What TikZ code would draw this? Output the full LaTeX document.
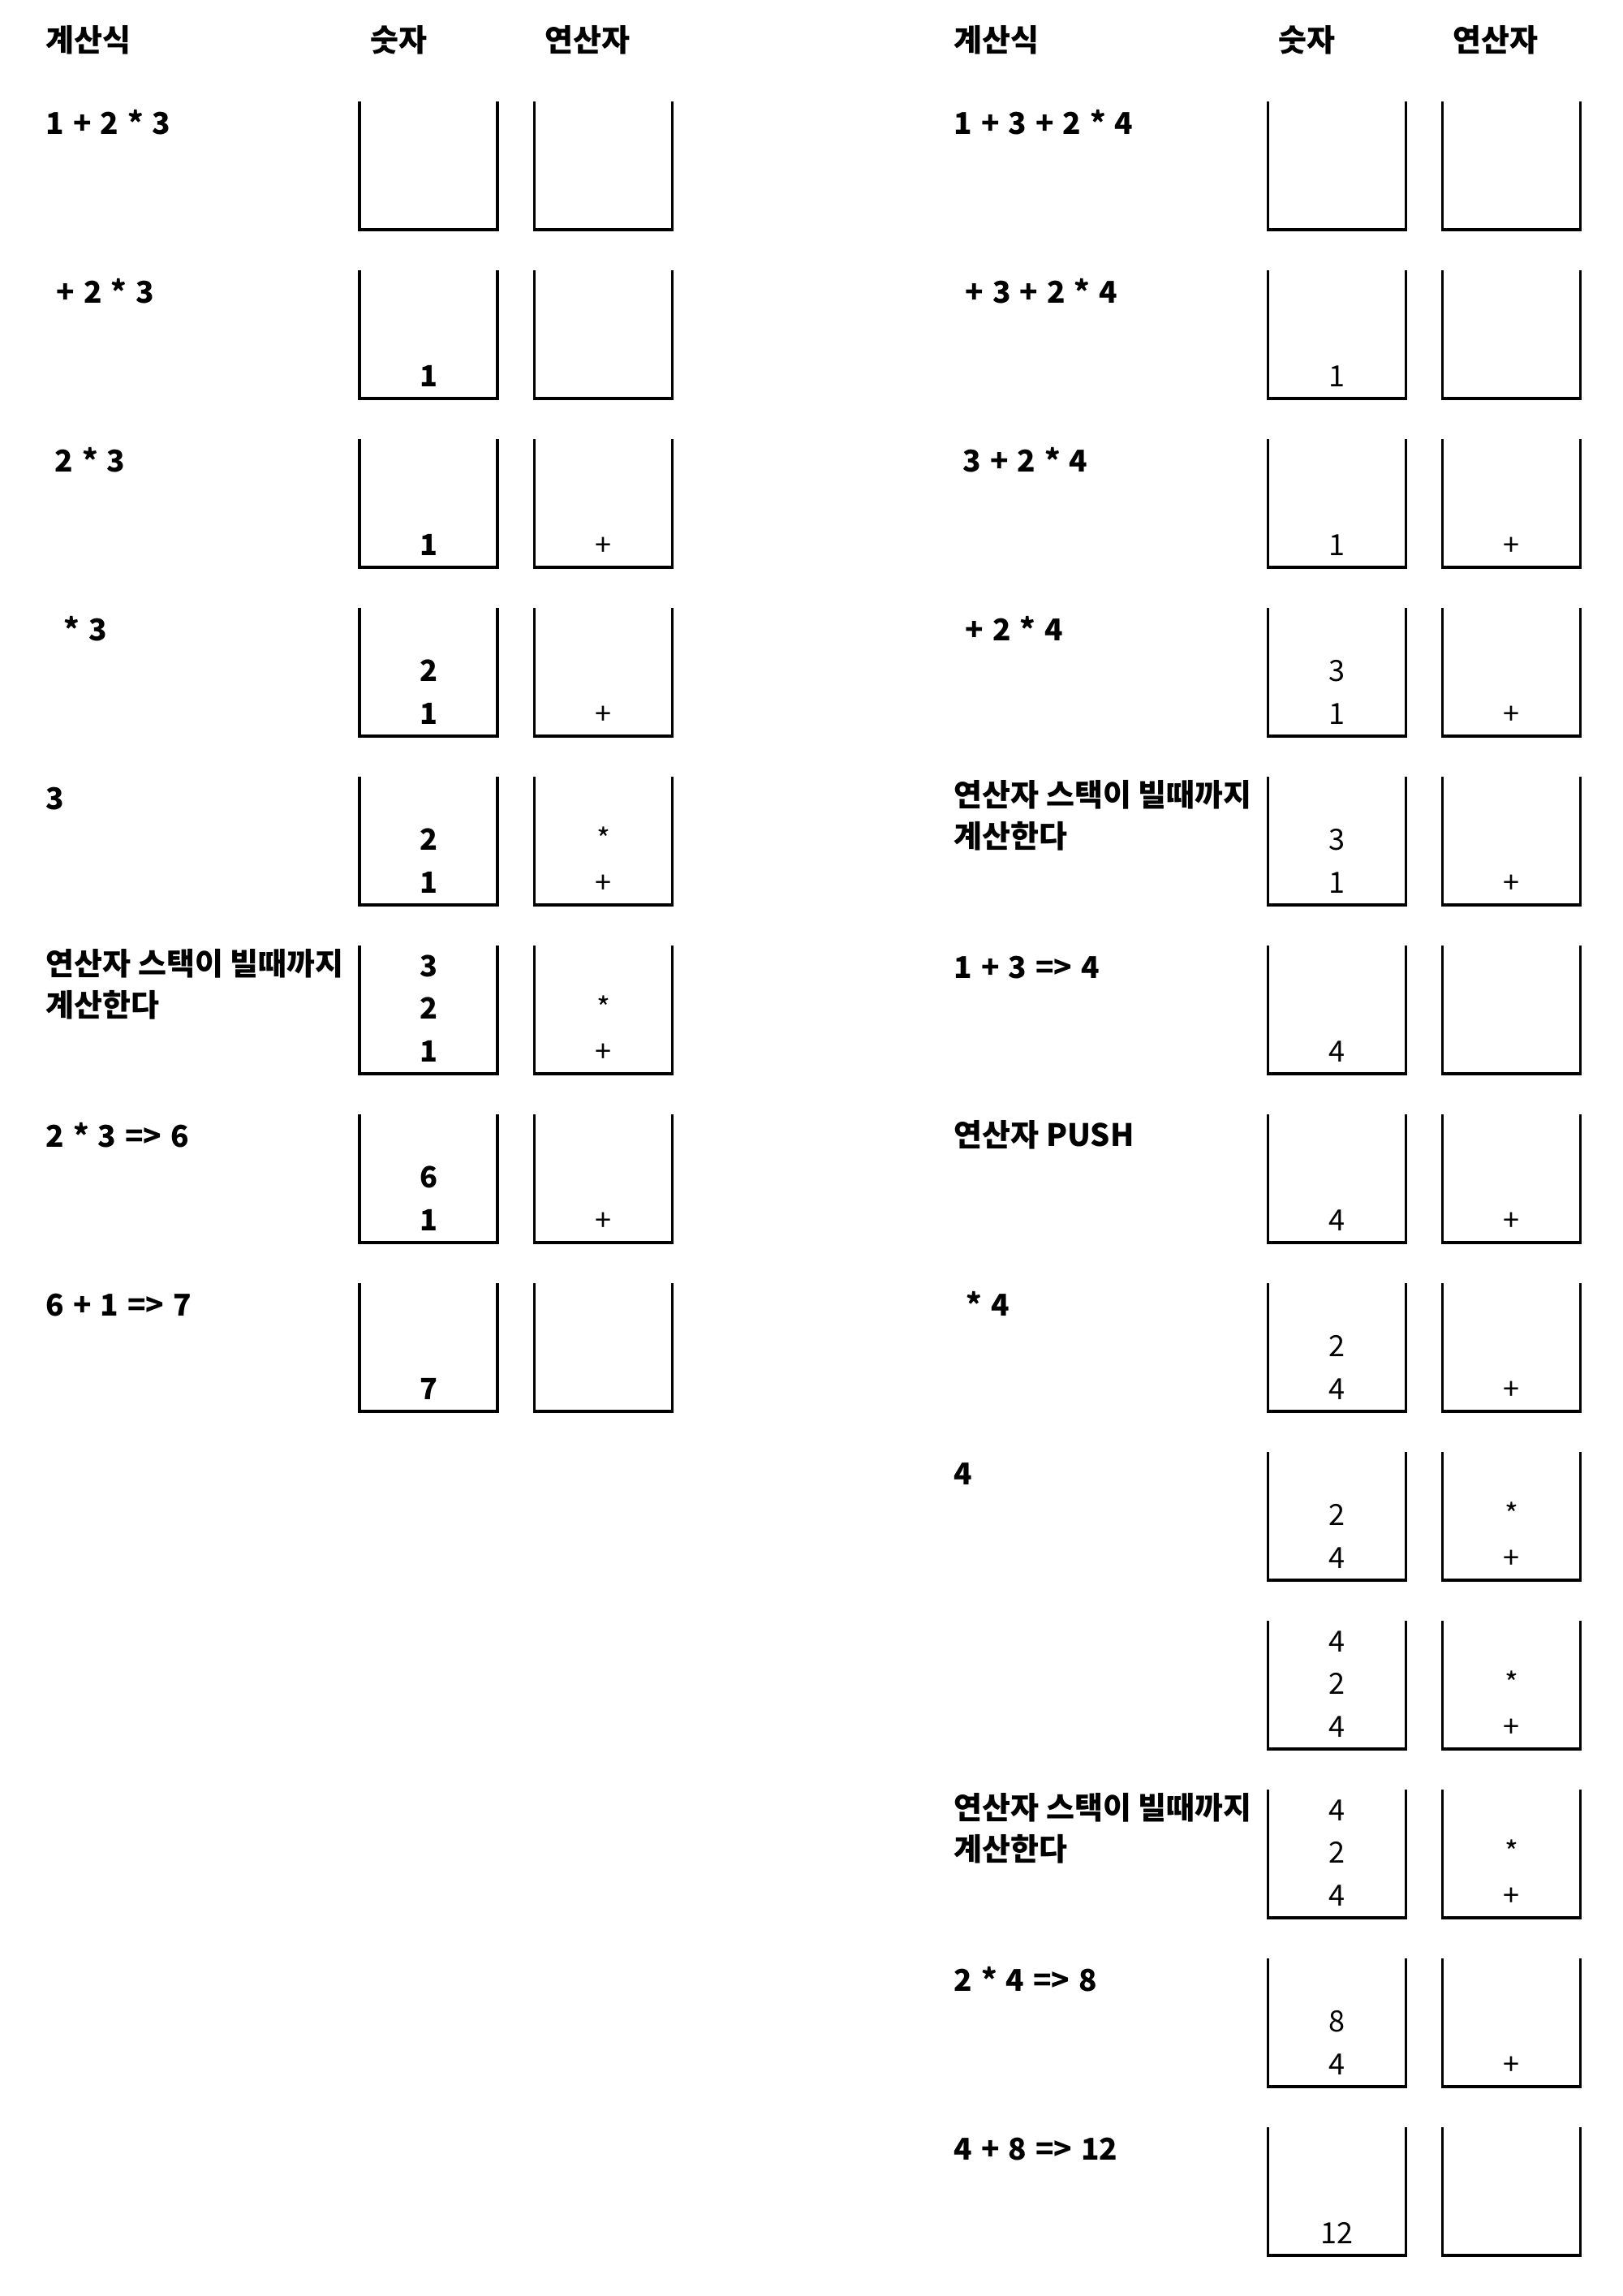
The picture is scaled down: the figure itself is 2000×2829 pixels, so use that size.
\documentclass[tikz,border=0pt]{standalone}
\usepackage{fontspec}
\setmainfont{Noto Sans CJK KR}
\newfontfamily\arithfont[WordSpace=1.3]{Noto Sans CJK KR}
\begin{document}
\begin{tikzpicture}[x=0.3pt,y=-0.3pt,
  stackline/.style={line width=1pt, line cap=rect, line join=miter},
  lab/.style={anchor=base west, inner sep=0pt, font=\fontsize{11.4}{12}\selectfont\bfseries},
  arith/.style={anchor=base west, inner sep=0pt, font=\arithfont\fontsize{11.1}{12}\selectfont\bfseries},
  numb/.style={anchor=base, inner sep=0pt, font=\fontsize{10.8}{12}\selectfont\bfseries},
  numr/.style={anchor=base, inner sep=0pt, font=\fontsize{10.8}{12}\selectfont},
  opr/.style={anchor=base, inner sep=0pt, font=\fontsize{10.8}{12}\selectfont}]
\useasboundingbox (0,0) rectangle (2000,2829);
\newcommand\ustack[2]{\draw[stackline] ({#1-85},{#2}) -- ({#1-85},{#2+156}) -- ({#1+85},{#2+156}) -- ({#1+85},{#2});}
\newcommand\sent[6]{\node[#1] (#2) at ({#3},{#4+141-52.5*#5}) {#6};}
% headers
\node[lab] (hL1) at (56,63) {계산식};
\node[lab] (hL2) at (456,63) {숫자};
\node[lab] (hL3) at (671,63) {연산자};
\node[lab] (hR1) at (1175,63) {계산식};
\node[lab] (hR2) at (1575,63) {숫자};
\node[lab] (hR3) at (1790,63) {연산자};
% ---------- left column ----------
\foreach \t in {127,335,543,751,959,1167,1375,1583}{\ustack{528}{\t}\ustack{743.5}{\t}}
\node[arith] (lL1) at (56,165) {1 + 2 * 3};
\node[arith] (lL2) at (69,373) {+ 2 * 3};
\node[arith] (lL3) at (67,581) {2 * 3};
\node[arith] (lL4) at (78,789) {* 3};
\node[arith] (lL5) at (56,997) {3};
\node[lab] (lL6a) at (56,1201) {연산자 스택이 빌때까지};
\node[lab] (lL6b) at (56,1252) {계산한다};
\node[arith] (lL7) at (56,1413) {2 * 3 => 6};
\node[arith] (lL8) at (56,1621) {6 + 1 => 7};
% row 2
\sent{numb}{ln2a}{528}{335}{0}{1}
% row 3
\sent{numb}{ln3a}{528}{543}{0}{1}
\sent{opr}{lo3a}{743.5}{543}{0}{+}
% row 4
\sent{numb}{ln4a}{528}{751}{0}{1}
\sent{numb}{ln4b}{528}{751}{1}{2}
\sent{opr}{lo4a}{743.5}{751}{0}{+}
% row 5
\sent{numb}{ln5a}{528}{959}{0}{1}
\sent{numb}{ln5b}{528}{959}{1}{2}
\sent{opr}{lo5a}{743.5}{959}{0}{+}
\sent{opr}{lo5b}{743.5}{959}{1}{*}
% row 6
\sent{numb}{ln6a}{528}{1167}{0}{1}
\sent{numb}{ln6b}{528}{1167}{1}{2}
\sent{numb}{ln6c}{528}{1167}{2}{3}
\sent{opr}{lo6a}{743.5}{1167}{0}{+}
\sent{opr}{lo6b}{743.5}{1167}{1}{*}
% row 7
\sent{numb}{ln7a}{528}{1375}{0}{1}
\sent{numb}{ln7b}{528}{1375}{1}{6}
\sent{opr}{lo7a}{743.5}{1375}{0}{+}
% row 8
\sent{numb}{ln8a}{528}{1583}{0}{7}
% ---------- right column ----------
\foreach \t in {127,335,543,751,959,1167,1375,1583,1791,1999,2207,2415,2623}{\ustack{1647.5}{\t}\ustack{1862.5}{\t}}
\node[arith] (rL1) at (1175,165) {1 + 3 + 2 * 4};
\node[arith] (rL2) at (1189,373) {+ 3 + 2 * 4};
\node[arith] (rL3) at (1186,581) {3 + 2 * 4};
\node[arith] (rL4) at (1189,789) {+ 2 * 4};
\node[lab] (rL5a) at (1175,993) {연산자 스택이 빌때까지};
\node[lab] (rL5b) at (1175,1044) {계산한다};
\node[arith] (rL6) at (1175,1205) {1 + 3 => 4};
\node[lab] (rL7) at (1175,1412) {연산자 PUSH};
\node[arith] (rL8) at (1190,1621) {* 4};
\node[arith] (rL9) at (1175,1829) {4};
\node[lab] (rL11a) at (1175,2241) {연산자 스택이 빌때까지};
\node[lab] (rL11b) at (1175,2292) {계산한다};
\node[arith] (rL12) at (1175,2453) {2 * 4 => 8};
\node[arith] (rL13) at (1175,2661) {4 + 8 => 12};
% row 2
\sent{numr}{rn2a}{1647.5}{335}{0}{1}
% row 3
\sent{numr}{rn3a}{1647.5}{543}{0}{1}
\sent{opr}{ro3a}{1862.5}{543}{0}{+}
% row 4
\sent{numr}{rn4a}{1647.5}{751}{0}{1}
\sent{numr}{rn4b}{1647.5}{751}{1}{3}
\sent{opr}{ro4a}{1862.5}{751}{0}{+}
% row 5
\sent{numr}{rn5a}{1647.5}{959}{0}{1}
\sent{numr}{rn5b}{1647.5}{959}{1}{3}
\sent{opr}{ro5a}{1862.5}{959}{0}{+}
% row 6
\sent{numr}{rn6a}{1647.5}{1167}{0}{4}
% row 7
\sent{numr}{rn7a}{1647.5}{1375}{0}{4}
\sent{opr}{ro7a}{1862.5}{1375}{0}{+}
% row 8
\sent{numr}{rn8a}{1647.5}{1583}{0}{4}
\sent{numr}{rn8b}{1647.5}{1583}{1}{2}
\sent{opr}{ro8a}{1862.5}{1583}{0}{+}
% row 9
\sent{numr}{rn9a}{1647.5}{1791}{0}{4}
\sent{numr}{rn9b}{1647.5}{1791}{1}{2}
\sent{opr}{ro9a}{1862.5}{1791}{0}{+}
\sent{opr}{ro9b}{1862.5}{1791}{1}{*}
% row 10
\sent{numr}{rn10a}{1647.5}{1999}{0}{4}
\sent{numr}{rn10b}{1647.5}{1999}{1}{2}
\sent{numr}{rn10c}{1647.5}{1999}{2}{4}
\sent{opr}{ro10a}{1862.5}{1999}{0}{+}
\sent{opr}{ro10b}{1862.5}{1999}{1}{*}
% row 11
\sent{numr}{rn11a}{1647.5}{2207}{0}{4}
\sent{numr}{rn11b}{1647.5}{2207}{1}{2}
\sent{numr}{rn11c}{1647.5}{2207}{2}{4}
\sent{opr}{ro11a}{1862.5}{2207}{0}{+}
\sent{opr}{ro11b}{1862.5}{2207}{1}{*}
% row 12
\sent{numr}{rn12a}{1647.5}{2415}{0}{4}
\sent{numr}{rn12b}{1647.5}{2415}{1}{8}
\sent{opr}{ro12a}{1862.5}{2415}{0}{+}
% row 13
\sent{numr}{rn13a}{1647.5}{2623}{0}{12}
\end{tikzpicture}
\end{document}
